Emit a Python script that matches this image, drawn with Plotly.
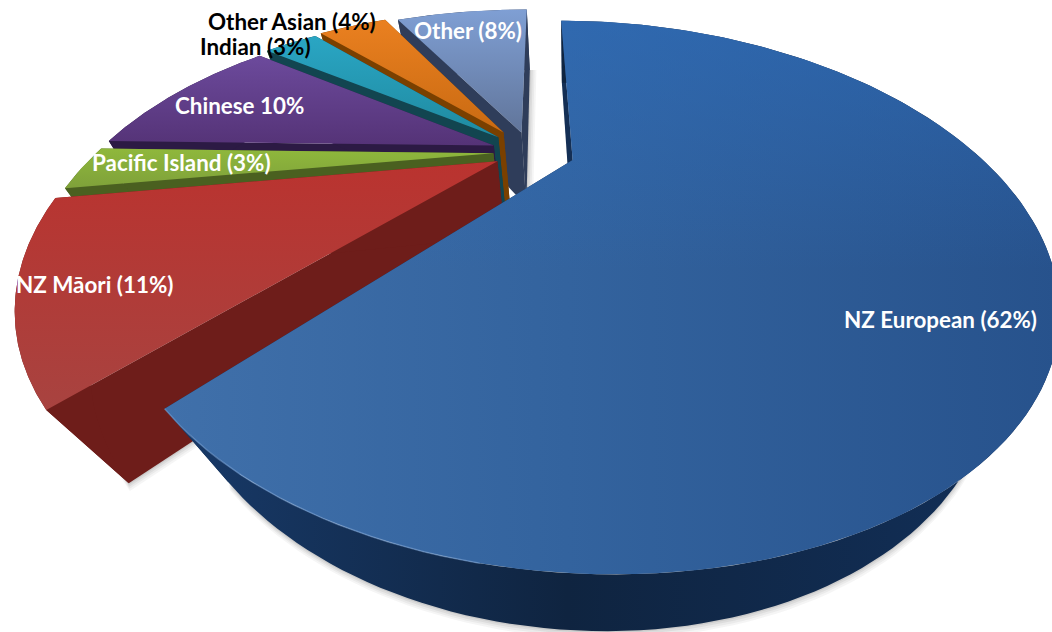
import numpy as np
import plotly.graph_objects as go

# Population shares, clockwise from twelve o'clock
groups = ["NZ European", "NZ Māori", "Pacific Island", "Chinese", "Indian", "Other Asian", "Other"]
shares = [62, 11, 3, 10, 3, 4, 8]
label_texts = ["NZ European (62%)", "NZ Māori (11%)", "Pacific Island (3%)", "Chinese 10%",
               "Indian (3%)", "Other Asian (4%)", "Other (8%)"]

# Styling per slice: outward explosion, radius, top gradient, wall colour
explode = [0.105, 0.09, 0.09, 0.096, 0.11, 0.12, 0.10]
radius = [0.965, 0.96, 0.95, 0.95, 0.95, 0.95, 0.95]
top_cols = [("#4070aa", "#27528c"), ("#a84340", "#ba332f"), ("#7fa13a", "#8fb83c"),
            ("#553377", "#6c4a9c"), ("#1f8aa0", "#2aa6c4"), ("#c96a12", "#ea8020"),
            ("#61759a", "#7f9fd4")]
wall_cols = ["#142f55", "#6e1d1a", "#4a6020", "#2c1a44", "#124550", "#7a4000", "#2f3d5a"]
label_cols = ["white", "white", "white", "white", "black", "black", "white"]
label_pos = [(940, 319), (94, 284), (181, 162), (239, 105), (255, 46), (292, 21), (468, 30)]

# Camera: plane origin, axis scales, foreshortening, nadir vanishing point, slice thickness
OX, OY = 531.0, 152.0
AX, BY, K = 417.0, 208.0, 0.505
VX, VY = 570.0, 875.0
H = 0.115
START_DEG = 0.5


def project_plane(x, y, h=0.0):
    # Homogeneous form: the plane origin stays fixed and depth pulls toward the vanishing point
    w = 1 + K * y
    X = OX * w + AX * x + h * VX
    Y = OY * w - BY * y + h * VY
    return X / (w + h), Y / (w + h)


fractions = np.array(shares, dtype=float) / sum(shares)
edges = START_DEG + 360 * np.concatenate([[0], np.cumsum(fractions)])

fig = go.Figure()


def poly(xs, ys, **fill):
    fig.add_trace(go.Scatter(x=list(xs), y=list(ys), mode="lines", fill="toself",
                             line=dict(width=0), hoverinfo="skip", showlegend=False, **fill))


slices = []
for i in range(len(shares)):
    a0, a1 = np.radians(edges[i]), np.radians(edges[i + 1])
    mid = (a0 + a1) / 2
    cx, cy = explode[i] * np.sin(mid), explode[i] * np.cos(mid)
    t = np.linspace(a0, a1, 160)
    slices.append((cx, cy, cx + radius[i] * np.sin(t), cy + radius[i] * np.cos(t)))

# Soft shadow falling on the page beneath the exploded slices
shadow_dirs = {0: (0.1, 0.7), 1: (0.1, 0.7), 6: (0.6, 0.0)}
for idx, (dx, dy) in shadow_dirs.items():
    cx, cy, ax, ay = slices[idx]
    bx, by = project_plane(np.r_[cx, ax], np.r_[cy, ay], H)
    for off, alpha in ((11, .05), (8, .06), (5, .08), (2, .10)):
        poly(bx + off * dx, by + off * dy, fillcolor=f"rgba(60,60,60,{alpha})")

# Painter's order: far slices first, the large front slice last
for i in [6, 5, 4, 3, 2, 1, 0]:
    cx, cy, ax, ay = slices[i]
    tx, ty = project_plane(ax, ay)
    bx, by = project_plane(ax, ay, H)
    px, py = project_plane(cx, cy)
    qx, qy = project_plane(cx, cy, H)
    wall = wall_cols[i]
    poly([px, tx[0], bx[0], qx], [py, ty[0], by[0], qy], fillcolor=wall)
    poly([px, tx[-1], bx[-1], qx], [py, ty[-1], by[-1], qy], fillcolor=wall)
    if i == 0:
        wall_fill = dict(fillgradient=dict(type="horizontal",
                                           colorscale=[[0, "#183a69"], [0.45, "#0f2440"], [1, "#12305a"]]))
    else:
        wall_fill = dict(fillcolor=wall)
    poly(np.r_[tx, bx[::-1]], np.r_[ty, by[::-1]], **wall_fill)
    low, high = top_cols[i]
    if i == 0:
        grad = dict(type="horizontal", colorscale=[[0, low], [0.45, "#33639e"], [1, high]])
    else:
        grad = dict(type="vertical", colorscale=[[0, low], [1, high]])
    poly(np.r_[px, tx], np.r_[py, ty], fillgradient=grad)
    if i == 0:
        # Brighter sheen towards the back of the large slice
        poly(np.r_[px, tx], np.r_[py, ty],
             fillgradient=dict(type="vertical",
                               colorscale=[[0, "rgba(40,70,120,0)"], [0.55, "rgba(45,110,190,0)"],
                                           [1, "rgba(45,110,190,0.55)"]]))
        front = ty > 380
        fig.add_trace(go.Scatter(x=tx[(tx < 480) & front], y=ty[(tx < 480) & front], mode="lines",
                                 line=dict(color="rgba(130,170,220,0.5)", width=1.5),
                                 hoverinfo="skip", showlegend=False))

for text, col, (lx, ly) in zip(label_texts, label_cols, label_pos):
    fig.add_annotation(x=lx, y=ly, text=f"<b>{text}</b>", showarrow=False,
                       font=dict(family="Lato", size=22.4, color=col))

fig.update_layout(width=1052, height=632, margin=dict(l=0, r=0, t=0, b=0),
                  paper_bgcolor="white", plot_bgcolor="white", showlegend=False,
                  xaxis=dict(range=[0, 1052], visible=False, fixedrange=True),
                  yaxis=dict(range=[632, 0], visible=False, fixedrange=True))
fig.write_html("out.html", config={"displayModeBar": False})
